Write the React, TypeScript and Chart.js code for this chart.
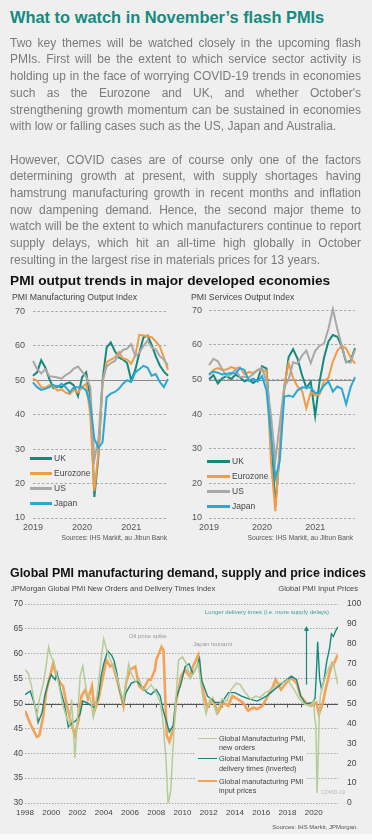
import React, { useEffect, useRef } from "react";
import { Chart, registerables } from "chart.js";
Chart.register(...registerables);

const FONT = "'Liberation Sans', Arial, Helvetica, sans-serif";

// ---------- small charts (monthly, Jan 2019 - Oct 2021) ----------
const months = [
  "2019-01", "2019-02", "2019-03", "2019-04", "2019-05", "2019-06", "2019-07", "2019-08", "2019-09", "2019-10", "2019-11", "2019-12",
  "2020-01", "2020-02", "2020-03", "2020-04", "2020-05", "2020-06", "2020-07", "2020-08", "2020-09", "2020-10", "2020-11", "2020-12",
  "2021-01", "2021-02", "2021-03", "2021-04", "2021-05", "2021-06", "2021-07", "2021-08", "2021-09", "2021-10",
];

const mfgUK = [51.3, 52.3, 55.8, 53.7, 50.4, 47.7, 48.3, 48.0, 49.0, 49.4, 48.5, 45.4,
  50.9, 52.3, 45.0, 16.1, 28.0, 50.0, 59.5, 61.0, 58.5, 56.6, 56.0, 55.0,
  50.0, 53.0, 58.0, 62.5, 63.0, 60.3, 57.0, 54.3, 52.5, 51.3];
const mfgEZ = [50.5, 49.8, 48.0, 47.8, 48.6, 48.2, 47.0, 47.4, 46.4, 46.0, 47.2, 46.4,
  48.0, 49.0, 40.0, 17.8, 29.0, 49.0, 55.3, 56.0, 56.6, 58.2, 56.3, 56.0,
  54.8, 57.2, 63.2, 63.0, 62.8, 62.5, 61.3, 59.8, 56.6, 53.0];
const mfgUS = [55.6, 53.3, 52.0, 53.2, 51.2, 51.0, 50.8, 50.5, 51.5, 52.2, 53.4, 54.0,
  52.5, 51.0, 48.0, 27.0, 33.0, 50.0, 54.0, 55.0, 55.6, 57.5, 58.8, 59.2,
  60.5, 57.0, 58.0, 60.0, 61.5, 59.5, 59.0, 57.0, 56.0, 54.3];
const mfgJP = [49.4, 48.0, 47.2, 47.5, 48.0, 48.6, 48.0, 49.0, 48.0, 46.5, 48.0, 48.0,
  48.0, 47.0, 43.0, 33.0, 30.4, 32.0, 45.1, 46.1, 46.6, 47.5, 49.0, 50.0,
  49.5, 52.3, 53.2, 54.2, 53.7, 51.3, 51.8, 49.5, 48.0, 50.4];

const svcUK = [50.1, 51.3, 48.9, 50.4, 51.0, 50.2, 51.4, 50.6, 49.5, 50.0, 49.0, 50.0,
  53.9, 53.2, 34.5, 13.4, 29.0, 47.1, 56.5, 58.8, 56.1, 51.4, 47.6, 49.4,
  39.5, 49.5, 56.3, 61.0, 62.9, 62.4, 59.6, 55.0, 55.4, 59.1];
const svcEZ = [51.2, 52.8, 53.3, 52.8, 52.9, 53.6, 53.2, 53.5, 51.6, 52.2, 51.9, 52.8,
  52.5, 52.6, 26.4, 12.0, 30.5, 48.3, 54.7, 50.5, 48.0, 46.9, 41.7, 46.4,
  45.4, 45.7, 49.6, 50.5, 55.2, 58.3, 59.8, 59.0, 56.4, 54.6];
const svcUS = [54.2, 56.0, 55.3, 53.0, 50.9, 51.5, 53.0, 50.7, 50.9, 50.6, 51.6, 52.8,
  53.4, 49.4, 39.8, 26.7, 37.5, 47.9, 50.0, 55.0, 54.6, 56.9, 58.4, 54.8,
  58.3, 59.8, 60.4, 64.7, 70.4, 64.6, 59.9, 55.1, 54.9, 58.7];
const svcJP = [51.6, 52.3, 52.0, 51.5, 51.7, 51.9, 51.8, 53.3, 52.8, 49.7, 50.3, 49.4,
  51.0, 46.8, 33.8, 21.5, 26.5, 45.0, 45.4, 45.0, 46.9, 47.7, 47.8, 47.7,
  46.1, 46.3, 48.3, 49.5, 46.5, 48.0, 47.4, 42.9, 47.8, 50.7];

const smallSeriesNames = ["UK", "Eurozone", "US", "Japan"];
const COLORS = { UK: "#14897e", Eurozone: "#f29b45", US: "#a8a8a8", Japan: "#2aa7d6" };

// ---------- bottom chart ----------
const newOrdersX = [1998.0, 1998.25, 1998.5, 1998.9, 1999.1, 1999.4, 1999.6, 1999.8, 2000.0, 2000.2, 2000.5, 2000.9,
  2001.2, 2001.4, 2001.55, 2001.8, 2002.0, 2002.2, 2002.4, 2002.7, 2003.0, 2003.2, 2003.4, 2003.6, 2003.85,
  2004.0, 2004.2, 2004.5, 2004.75, 2005.0, 2005.3, 2005.5, 2005.7, 2005.9, 2006.1, 2006.4, 2006.7, 2007.0,
  2007.3, 2007.6, 2008.0, 2008.3, 2008.5, 2008.75, 2008.9, 2009.1, 2009.4, 2009.7, 2010.0, 2010.3, 2010.6,
  2010.9, 2011.2, 2011.4, 2011.6, 2011.8, 2012.1, 2012.35, 2012.6, 2013.0, 2013.4, 2013.7, 2014.1, 2014.4,
  2014.7, 2015.2, 2015.6, 2015.9, 2016.3, 2016.8, 2017.1, 2017.4, 2017.8, 2018.0, 2018.5, 2018.9, 2019.3,
  2019.7, 2020.0, 2020.08, 2020.17, 2020.25, 2020.33, 2020.42, 2020.5, 2020.67, 2020.9, 2021.2, 2021.5,
  2021.7, 2021.83];
const newOrdersY = [56.8, 56.1, 53.5, 47.2, 50.9, 54.1, 57.4, 61.4, 59.4, 58.5, 54.8, 49.5,
  46.9, 45.9, 50.8, 39.0, 47.0, 55.5, 57.6, 52.2, 51.0, 47.2, 50.0, 54.1, 60.0,
  63.0, 61.0, 58.7, 57.5, 55.5, 52.2, 50.5, 54.0, 58.0, 56.0, 54.5, 54.8, 53.0,
  52.8, 53.8, 52.2, 50.2, 46.9, 38.4, 29.8, 32.4, 46.9, 58.8, 59.4, 58.0, 55.0,
  56.5, 58.0, 54.0, 50.5, 47.9, 51.0, 50.0, 47.9, 50.9, 50.5, 52.8, 54.1, 53.8,
  52.5, 50.9, 51.5, 51.2, 52.2, 52.8, 53.5, 54.1, 54.3, 54.8, 52.8, 50.9, 49.9,
  49.5, 50.5, 47.0, 45.5, 32.0, 38.0, 47.5, 51.5, 53.5, 55.5, 57.4, 58.1,
  55.5, 53.8];

const deliveryX = [1998.0, 1998.4, 1998.6, 1998.9, 1999.0, 1999.3, 1999.5, 1999.8, 2000.0, 2000.3, 2000.45, 2000.7,
  2001.0, 2001.3, 2001.5, 2001.9, 2002.2, 2002.4, 2002.7, 2003.1, 2003.3, 2003.6, 2003.8, 2004.0, 2004.3,
  2004.6, 2004.8, 2005.0, 2005.2, 2005.5, 2005.7, 2006.1, 2006.5, 2006.9, 2007.3, 2007.6, 2008.0, 2008.3,
  2008.5, 2008.8, 2009.0, 2009.3, 2009.5, 2009.9, 2010.2, 2010.5, 2010.8, 2011.1, 2011.3, 2011.45, 2011.9,
  2012.5, 2013.0, 2013.5, 2014.0, 2014.5, 2015.1, 2015.7, 2016.4, 2017.0, 2017.6, 2018.3, 2018.7, 2019.0,
  2019.4, 2019.9, 2020.1, 2020.2, 2020.3, 2020.45, 2020.6, 2020.8, 2021.0, 2021.2, 2021.35, 2021.5, 2021.65,
  2021.83];
const deliveryY = [51.8, 52.5, 50.9, 48.2, 46.2, 48.2, 51.5, 54.5, 55.8, 54.8, 56.1, 52.8,
  49.9, 45.3, 45.9, 46.6, 47.9, 50.5, 50.2, 49.5, 49.2, 51.5, 55.5, 58.0, 60.6,
  59.7, 58.5, 56.1, 52.8, 50.2, 52.2, 54.1, 54.5, 53.5, 52.2, 51.8, 52.8, 51.5,
  48.9, 46.2, 44.3, 45.6, 50.9, 54.1, 57.4, 58.0, 56.0, 57.5, 59.0, 54.8, 51.5,
  50.2, 50.2, 52.2, 52.2, 51.5, 50.9, 50.5, 51.5, 52.8, 54.1, 55.5, 54.8, 51.5,
  49.9, 50.2, 51.0, 56.0, 62.4, 55.0, 52.8, 55.0, 58.6, 61.0, 64.0, 63.5, 64.5,
  65.4];

const pricesX = [1998.0, 1998.4, 1998.65, 1998.9, 1999.1, 1999.4, 1999.6, 1999.9, 2000.15, 2000.4, 2000.7, 2000.9,
  2001.2, 2001.5, 2001.8, 2002.1, 2002.3, 2002.6, 2002.8, 2003.1, 2003.3, 2003.6, 2004.0, 2004.2, 2004.5,
  2004.7, 2005.0, 2005.2, 2005.5, 2005.7, 2006.0, 2006.4, 2006.7, 2007.0, 2007.4, 2007.6, 2007.9, 2008.0,
  2008.4, 2008.55, 2008.8, 2009.0, 2009.3, 2009.5, 2009.9, 2010.2, 2010.55, 2010.8, 2011.2, 2011.35, 2011.6,
  2011.9, 2012.3, 2012.7, 2013.1, 2013.5, 2013.8, 2014.2, 2014.6, 2015.0, 2015.4, 2015.7, 2016.1, 2016.5,
  2016.9, 2017.1, 2017.5, 2017.9, 2018.3, 2018.7, 2019.0, 2019.4, 2019.8, 2020.2, 2020.4, 2020.7, 2020.9,
  2021.2, 2021.4, 2021.5, 2021.83];
const pricesY = [46.4, 39.8, 36.5, 33.2, 34.0, 44.0, 55.4, 63.7, 70.2, 63.7, 60.3, 58.7,
  48.8, 40.6, 34.0, 42.3, 53.8, 57.0, 52.2, 58.7, 46.4, 52.2, 65.3, 71.9, 68.6,
  69.4, 62.0, 57.0, 48.8, 60.3, 67.0, 68.6, 58.7, 57.0, 62.0, 62.0, 67.0, 71.9,
  78.5, 76.8, 34.0, 30.8, 37.3, 50.5, 63.7, 67.0, 63.7, 68.6, 74.3, 65.3, 55.4,
  48.0, 52.2, 45.5, 50.5, 48.8, 53.8, 52.2, 50.5, 46.4, 48.0, 47.2, 48.8, 53.8,
  58.7, 62.0, 57.0, 60.3, 62.8, 60.3, 53.8, 50.5, 48.8, 50.5, 44.7, 50.5, 57.0,
  65.3, 70.2, 69.5, 74.5];

const bottomYearLabels = [1998, 2000, 2002, 2004, 2006, 2008, 2010, 2012, 2014, 2016, 2018, 2020];
const bottomYearMarks = [1999, 2000, 2001, 2002, 2003, 2004, 2005, 2006, 2007, 2008, 2009, 2010, 2011,
  2012, 2013, 2014, 2015, 2016, 2017, 2018, 2019, 2020, 2021];
const arrowYear = 2019.4;
const arrowFrom = 53.8;
const arrowTo = 65.4;

const C_ORDERS = "#b6cc98";
const C_DELIV = "#14897e";
const C_PRICES = "#f4a256";

function fiftyLine(color: string, ticks?: number[]) {
  return {
    id: "fiftyLine",
    beforeDatasetsDraw(chart: any) {
      const { ctx, chartArea, scales } = chart;
      const y = Math.round(scales.y.getPixelForValue(50)) + 0.5;
      ctx.save();
      ctx.strokeStyle = color;
      ctx.lineWidth = 1;
      ctx.setLineDash([]);
      ctx.beginPath();
      ctx.moveTo(chartArea.left, y);
      ctx.lineTo(chartArea.right, y);
      if (ticks) {
        ticks.forEach((t) => {
          const x = Math.round(scales.x.getPixelForValue(t)) + 0.5;
          ctx.moveTo(x, y);
          ctx.lineTo(x, y + 3);
        });
      }
      ctx.stroke();
      ctx.restore();
    },
  };
}

function smallConfig(data: number[][], yWidth: number, yPad: number, padRight: number): any {
  const order = [3, 2, 1, 0]; // draw Japan, US, Eurozone, UK (top)
  const datasets = order.map((i) => ({
    label: smallSeriesNames[i],
    data: data[i],
    borderColor: (COLORS as any)[smallSeriesNames[i]],
    borderWidth: 2,
    pointRadius: 0,
    tension: 0,
    fill: false,
    clip: false,
  }));
  return {
    type: "line",
    data: { labels: months, datasets },
    options: {
      responsive: false,
      animation: false,
      layout: { padding: { top: 10, right: padRight, bottom: 4, left: 0 } },
      plugins: { legend: { display: false }, tooltip: { enabled: false } },
      scales: {
        x: {
          type: "category",
          offset: false,
          grid: { display: false, drawTicks: false },
          border: { display: false },
          ticks: {
            autoSkip: false,
            maxRotation: 0,
            padding: 4,
            color: "#555",
            font: { family: FONT, size: 9 },
            callback: (v: any) => months[v].slice(0, 4),
          },
          afterBuildTicks: (s: any) => {
            s.ticks = s.ticks.filter((t: any) => months[t.value].endsWith("-01"));
          },
          afterFit: (s: any) => {
            s.height = 16;
          },
        },
        y: {
          min: 10,
          max: 70,
          ticks: { stepSize: 10, padding: yPad, color: "#555", font: { family: FONT, size: 9 } },
          grid: { color: "#a8a8a8", lineWidth: 1, drawTicks: false },
          border: { display: false, dash: [2.5, 2] },
          afterFit: (s: any) => {
            s.width = yWidth;
          },
        },
      },
    },
    plugins: [fiftyLine("#8a8a8a")],
  };
}

function bottomConfig(): any {
  const pts = (xs: number[], ys: number[]) => xs.map((x, i) => ({ x, y: ys[i] }));
  const arrow = {
    id: "arrow",
    afterDatasetsDraw(chart: any) {
      const { ctx, scales } = chart;
      const x = Math.round(scales.x.getPixelForValue(arrowYear)) + 0.5;
      const y0 = scales.y.getPixelForValue(arrowFrom);
      const y1 = scales.y.getPixelForValue(arrowTo);
      ctx.save();
      ctx.strokeStyle = C_DELIV;
      ctx.fillStyle = C_DELIV;
      ctx.lineWidth = 1.2;
      ctx.beginPath();
      ctx.moveTo(x, y0);
      ctx.lineTo(x, y1 + 3);
      ctx.stroke();
      ctx.beginPath();
      ctx.moveTo(x, y1 - 1);
      ctx.lineTo(x - 2.5, y1 + 4);
      ctx.lineTo(x + 2.5, y1 + 4);
      ctx.closePath();
      ctx.fill();
      ctx.restore();
    },
  };
  return {
    type: "line",
    data: {
      datasets: [
        { label: "orders", data: pts(newOrdersX, newOrdersY), borderColor: C_ORDERS, borderWidth: 1.5, pointRadius: 0, tension: 0, yAxisID: "y" },
        { label: "delivery", data: pts(deliveryX, deliveryY), borderColor: C_DELIV, borderWidth: 1.4, pointRadius: 0, tension: 0, yAxisID: "y" },
        { label: "prices", data: pts(pricesX, pricesY), borderColor: C_PRICES, borderWidth: 2.6, pointRadius: 0, tension: 0, yAxisID: "y1" },
      ],
    },
    options: {
      responsive: false,
      animation: false,
      layout: { padding: { top: 10, right: 0, bottom: 7, left: 0 } },
      plugins: { legend: { display: false }, tooltip: { enabled: false } },
      scales: {
        x: {
          type: "linear",
          min: 1998,
          max: 2021.85,
          grid: { display: false, drawTicks: false },
          border: { display: false },
          ticks: {
            autoSkip: false,
            maxRotation: 0,
            padding: 5,
            color: "#444",
            font: { family: FONT, size: 8 },
            callback: (v: any) => String(v),
          },
          afterBuildTicks: (s: any) => {
            s.ticks = bottomYearLabels.map((v) => ({ value: v }));
          },
          afterFit: (s: any) => {
            s.height = 20;
          },
        },
        y: {
          position: "left",
          min: 30,
          max: 70,
          ticks: { stepSize: 5, padding: 2, color: "#444", font: { family: FONT, size: 8.5 } },
          grid: { color: "#a8a8a8", lineWidth: 1, drawTicks: false },
          border: { display: false, dash: [1.5, 1.5] },
          afterFit: (s: any) => {
            s.width = 25;
          },
        },
        y1: {
          position: "right",
          min: 0,
          max: 100,
          ticks: { stepSize: 10, padding: 9, color: "#444", font: { family: FONT, size: 8.5 } },
          grid: { drawOnChartArea: false, drawTicks: false },
          border: { display: false },
          afterFit: (s: any) => {
            s.width = 34;
          },
        },
      },
    },
    plugins: [fiftyLine("#555", bottomYearMarks), arrow],
  };
}

const p1 = [
  "Two key themes will be watched closely in the upcoming flash",
  "PMIs. First will be the extent to which service sector activity is",
  "holding up in the face of worrying COVID-19 trends in economies",
  "such as the Eurozone and UK, and whether October's",
  "strengthening growth momentum can be sustained in economies",
  "with low or falling cases such as the US, Japan and Australia.",
];
const p2 = [
  "However, COVID cases are of course only one of the factors",
  "determining growth at present, with supply shortages having",
  "hamstrung manufacturing growth in recent months and inflation",
  "now dampening demand. Hence, the second major theme to",
  "watch will be the extent to which manufacturers continue to report",
  "supply delays, which hit an all-time high globally in October",
  "resulting in the largest rise in materials prices for 13 years.",
];

const abs = (left: number, top: number, extra: React.CSSProperties = {}): React.CSSProperties => ({
  position: "absolute",
  left,
  top,
  whiteSpace: "nowrap",
  ...extra,
});

function Paragraph({ lines, top }: { lines: string[]; top: number }) {
  return (
    <div style={{ position: "absolute", left: 10, top, width: 351, fontSize: 12, lineHeight: "16.7px", color: "#7a7a7a" }}>
      {lines.map((l, i) => (
        <div
          key={i}
          style={{
            textAlign: "justify",
            textAlignLast: i === lines.length - 1 ? "left" : "justify",
            height: 16.7,
          }}
        >
          {l}
        </div>
      ))}
    </div>
  );
}

function SmallLegend({ lineLeft, lineWidth, textLeft, centers }: { lineLeft: number; lineWidth: number; textLeft: number; centers: number[] }) {
  return (
    <>
      {smallSeriesNames.map((n, i) => (
        <React.Fragment key={n}>
          <div style={{ position: "absolute", left: lineLeft, top: centers[i] - 1.5, width: lineWidth, height: 3, background: (COLORS as any)[n] }} />
          <div style={abs(textLeft, centers[i] - 5, { fontSize: 8.5, lineHeight: "10px", color: "#444" })}>{n}</div>
        </React.Fragment>
      ))}
    </>
  );
}

export default function App() {
  const leftRef = useRef<HTMLCanvasElement>(null);
  const rightRef = useRef<HTMLCanvasElement>(null);
  const bottomRef = useRef<HTMLCanvasElement>(null);

  useEffect(() => {
    const charts: Chart[] = [];
    charts.push(new Chart(leftRef.current!, smallConfig([mfgUK, mfgEZ, mfgUS, mfgJP], 33, 8, 17)));
    charts.push(new Chart(rightRef.current!, smallConfig([svcUK, svcEZ, svcUS, svcJP], 24, 7, 17)));
    charts.push(new Chart(bottomRef.current!, bottomConfig()));
    return () => charts.forEach((c) => c.destroy());
  }, []);

  return (
    <div style={{ position: "absolute", left: 0, top: 0, width: 372, height: 840, background: "#efefef", overflow: "hidden", fontFamily: FONT }}>
      <div style={{ position: "absolute", left: 0, top: 834, width: 372, height: 6, background: "#fafafa" }} />
      <canvas ref={leftRef} width={185} height={240} style={{ position: "absolute", left: 0, top: 298, width: 185, height: 240 }} />
      <canvas ref={rightRef} width={187} height={240} style={{ position: "absolute", left: 185, top: 298, width: 187, height: 240 }} />
      <canvas ref={bottomRef} width={372} height={240} style={{ position: "absolute", left: 0, top: 590, width: 372, height: 240 }} />

      <div style={abs(10, 7, { fontSize: 16.4, lineHeight: "20px", fontWeight: "bold", color: "#138b80" })}>
        What to watch in November’s flash PMIs
      </div>
      <Paragraph lines={p1} top={34.8} />
      <Paragraph lines={p2} top={151.7} />

      <div style={abs(10, 273.3, { fontSize: 13.7, lineHeight: "16px", fontWeight: "bold", color: "#111" })}>
        PMI output trends in major developed economies
      </div>
      <div style={abs(12, 291.5, { fontSize: 8.7, lineHeight: "10px", color: "#444" })}>PMI Manufacturing Output Index</div>
      <div style={abs(191, 291.5, { fontSize: 8.7, lineHeight: "10px", color: "#444" })}>PMI Services Output Index</div>

      <SmallLegend lineLeft={30} lineWidth={22} textLeft={54} centers={[458.3, 473.3, 488.3, 503.3]} />
      <SmallLegend lineLeft={207} lineWidth={23} textLeft={232} centers={[461, 476, 491, 506]} />

      <div style={abs(0, 534.2, { width: 167, textAlign: "right", fontSize: 6.7, lineHeight: "8px", color: "#555" })}>
        Sources: IHS Markit, au Jibun Bank
      </div>
      <div style={abs(185, 534.2, { width: 168, textAlign: "right", fontSize: 6.7, lineHeight: "8px", color: "#555" })}>
        Sources: IHS Markit, au Jibun Bank
      </div>

      <div style={abs(10, 566.2, { fontSize: 12.4, lineHeight: "15px", fontWeight: "bold", color: "#111" })}>
        Global PMI manufacturing demand, supply and price indices
      </div>
      <div style={abs(11, 583.9, { fontSize: 7.6, lineHeight: "9px", color: "#444" })}>
        JPMorgan Global PMI New Orders and Delivery Times Index
      </div>
      <div style={abs(200, 583.9, { width: 158, textAlign: "right", fontSize: 7.6, lineHeight: "9px", color: "#444" })}>
        Global PMI Input Prices
      </div>

      <div style={abs(205, 608.5, { fontSize: 6, lineHeight: "7px", color: "#3f9d93" })}>
        Longer delivery times (i.e. more supply delays)
      </div>
      <div style={abs(129, 633, { fontSize: 6, lineHeight: "7px", color: "#999" })}>Oil price spike</div>
      <div style={abs(193, 640.5, { fontSize: 6, lineHeight: "7px", color: "#999" })}>Japan tsunami</div>
      <div style={abs(321, 788.5, { fontSize: 5.2, lineHeight: "7px", color: "#b5b5b5" })}>COVID-19</div>

      <div style={{ position: "absolute", left: 196, top: 733, width: 110, height: 64, background: "#efefef" }} />
      <div style={{ position: "absolute", left: 198, top: 737.6, width: 19, height: 1.5, background: C_ORDERS }} />
      <div style={{ position: "absolute", left: 198, top: 757.6, width: 19, height: 1.5, background: C_DELIV }} />
      <div style={{ position: "absolute", left: 198, top: 779.7, width: 19, height: 2.6, background: C_PRICES }} />
      <div style={abs(219, 733.7, { fontSize: 7.3, lineHeight: "9.5px", color: "#444" })}>
        Global Manufacturing PMI,<br />new orders
      </div>
      <div style={abs(219, 754.2, { fontSize: 7.3, lineHeight: "9.5px", color: "#444" })}>
        Global Manufacturing PMI<br />delivery times (inverted)
      </div>
      <div style={abs(219, 776.7, { fontSize: 7.3, lineHeight: "9.5px", color: "#444" })}>
        Global manufacturing PMI<br />input prices
      </div>

      <div style={abs(200, 824.4, { width: 158, textAlign: "right", fontSize: 6, lineHeight: "7px", color: "#555" })}>
        Sources: IHS Markit, JPMorgan.
      </div>
    </div>
  );
}
